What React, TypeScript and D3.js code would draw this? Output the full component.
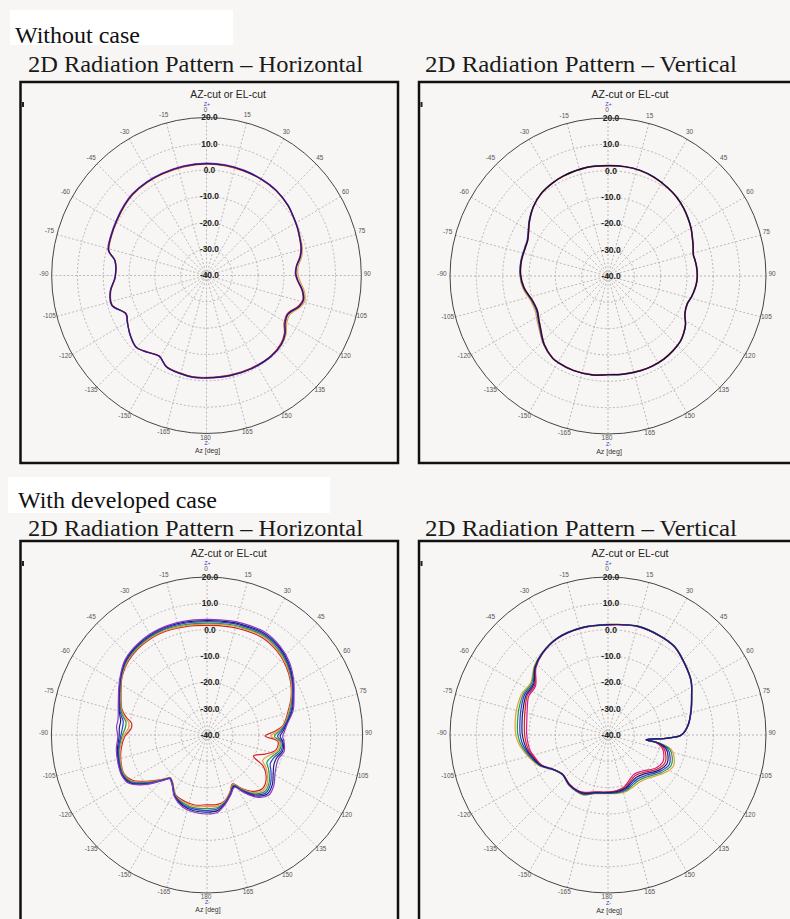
import * as d3 from 'd3';
import React, { useEffect, useRef } from 'react';

// polar grid
const ringLevels = [20, 10, 0, -10, -20, -30, -40];
const tickAngles = [-165, -150, -135, -120, -105, -90, -75, -60, -45, -30, -15, 0, 15, 30, 45, 60, 75, 90, 105, 120, 135, 150, 165, 180];

const sectionLabels = ['Without case', 'With developed case'];
const panelTitles = ['2D Radiation Pattern \u2013 Horizontal', '2D Radiation Pattern \u2013 Vertical'];

// Without case / horizontal (dB at each azimuth)
const hzAngles = [-180, -172, -165, -156, -149, -142, -135, -127, -120, -115, -107, -99, -91, -81, -76, -68, -59, -50, -43, -33, -24, -12, 0, 10, 20, 30, 40, 50, 57, 63, 68, 74, 79, 84, 89, 93, 99, 104, 108, 115, 121, 126, 132, 141, 154, 166];
const hzNavy = [-1.1, -1.0, -1.4, -2.0, -4.3, -3.0, -1.5, -2.9, -4.6, -5.6, -1.6, -2.3, -4.6, -4.1, -0.9, -0.1, 0.6, 1.5, 2.1, 2.3, 2.3, 2.4, 2.5, 2.5, 2.4, 2.3, 2.1, 1.3, 0.3, -0.4, -1.1, -1.8, -3.0, -4.9, -5.4, -4.6, -2.3, -1.3, -2.2, -5.2, -4.5, -2.4, -1.0, -0.4, -0.6, -0.9];
const hzRed = [-1.2, -1.1, -1.5, -2.1, -4.4, -3.1, -1.4, -2.8, -4.7, -5.7, -1.7, -2.4, -4.7, -4.2, -1.0, -0.2, 0.5, 1.4, 2.0, 2.2, 2.2, 2.3, 2.4, 2.4, 2.3, 2.2, 2.0, 1.2, 0.2, -0.5, -1.2, -2.0, -3.2, -5.0, -5.6, -4.8, -2.5, -1.6, -2.5, -5.5, -4.9, -2.7, -1.3, -0.6, -0.8, -1.1];
const hzOrange = [-1.3, -1.2, -1.6, -2.1, -4.3, -3.0, -1.6, -3.0, -4.5, -5.4, -1.8, -2.5, -4.6, -4.0, -1.1, -0.3, 0.4, 1.3, 1.9, 2.1, 2.1, 2.2, 2.3, 2.3, 2.2, 2.2, 2.0, 1.2, 0.4, -0.2, -0.8, -1.4, -2.4, -4.2, -4.6, -3.8, -1.6, -0.7, -1.6, -4.5, -3.8, -1.9, -0.7, -0.4, -0.7, -1.0];
const hzPurple = [-1.0, -0.9, -1.3, -1.9, -4.2, -2.9, -1.4, -2.8, -4.5, -5.5, -1.5, -2.2, -4.5, -4.0, -0.7, 0.1, 0.8, 1.7, 2.3, 2.5, 2.5, 2.6, 2.7, 2.7, 2.6, 2.4, 2.2, 1.4, 0.4, -0.3, -1.0, -1.7, -2.9, -4.8, -5.3, -4.5, -2.2, -1.2, -2.1, -5.1, -4.4, -2.3, -0.9, -0.3, -0.5, -0.8];

// Without case / vertical
const vtAngles = [-180, -171, -160, -150, -146, -137, -127, -122, -116, -108, -98, -89, -80, -71, -66, -60, -55, -47, -39, -31, -24, -11, 0, 9, 17, 25, 34, 41, 48, 54, 60, 66, 71, 76, 80, 84, 89, 93, 97, 104, 109, 116, 122, 127, 132, 139, 146, 154, 161, 171];
const vtBlack = [-2.5, -2.0, -1.8, -2.1, -2.4, -4.5, -7.8, -9.0, -10.1, -9.8, -7.8, -6.8, -6.6, -6.8, -6.6, -5.2, -3.6, -1.3, 0.3, 1.1, 1.6, 2.0, 1.9, 2.0, 1.9, 1.4, 0.5, -0.3, -1.4, -2.5, -3.6, -4.9, -5.8, -6.6, -6.4, -6.2, -6.1, -6.2, -6.5, -7.3, -8.1, -7.5, -5.3, -4.0, -3.0, -2.4, -2.0, -1.9, -2.0, -2.3];
const vtMagenta = [-2.6, -2.1, -1.9, -2.2, -2.5, -4.6, -7.9, -9.1, -10.2, -9.9, -7.9, -6.9, -6.7, -6.9, -6.7, -5.3, -3.7, -1.4, 0.2, 1.0, 1.5, 1.9, 1.8, 1.9, 1.8, 1.3, 0.4, -0.4, -1.5, -2.6, -3.7, -5.0, -5.9, -6.7, -6.5, -6.3, -6.2, -6.3, -6.6, -7.4, -8.2, -7.6, -5.4, -4.1, -3.1, -2.5, -2.1, -2.0, -2.1, -2.4];
const vtBlue = [-2.4, -1.9, -1.7, -2.0, -2.3, -4.3, -7.5, -8.7, -9.8, -9.6, -7.6, -6.6, -6.4, -6.6, -6.4, -5.0, -3.4, -1.2, 0.4, 1.2, 1.7, 2.1, 2.0, 2.1, 2.0, 1.5, 0.6, -0.2, -1.3, -2.4, -3.5, -4.8, -5.7, -6.5, -6.3, -6.1, -6.0, -6.1, -6.4, -7.2, -8.0, -7.4, -5.2, -3.9, -2.9, -2.3, -1.9, -1.8, -1.9, -2.2];
const vtOrange = [-2.5, -2.0, -1.8, -2.1, -2.3, -4.2, -7.1, -8.2, -9.3, -9.2, -7.3, -6.5, -6.5, -6.7, -6.6, -5.2, -3.6, -1.3, 0.3, 1.1, 1.6, 2.0, 1.9, 2.0, 1.9, 1.4, 0.5, -0.3, -1.4, -2.5, -3.6, -4.9, -5.8, -6.6, -6.4, -6.2, -6.1, -6.2, -6.5, -7.3, -8.1, -7.5, -5.3, -4.0, -3.0, -2.4, -2.0, -1.9, -2.0, -2.3];

// With developed case / horizontal
const hcAngles = [-180, -170, -161, -152, -144, -139, -136, -128, -121, -115, -108, -99, -91, -85, -81, -78, -74, -70, -62, -56, -48, -37, -25, -12, 0, 12, 17, 29, 40, 49, 58, 66, 74, 83, 87, 91, 95, 102, 108, 114, 119, 127, 134, 141, 147, 152, 158, 165, 172];
const hcPurple = [-10.0, -10.3, -11.1, -13.3, -17.0, -18.0, -16.2, -9.3, -4.6, -3.7, -4.0, -4.6, -5.6, -5.0, -5.2, -5.0, -4.4, -3.6, -1.5, 0.3, 2.6, 3.8, 4.3, 4.1, 3.9, 4.3, 4.5, 5.0, 3.9, 2.1, -0.6, -3.3, -5.4, -9.0, -10.0, -10.8, -10.2, -9.6, -11.0, -10.8, -10.0, -7.8, -7.0, -9.6, -14.0, -17.5, -15.5, -12.8, -10.4];
const hcNavy = [-10.7, -10.8, -11.6, -13.5, -17.1, -18.1, -16.3, -9.7, -5.0, -3.9, -4.2, -5.0, -6.1, -6.1, -6.3, -5.7, -4.7, -3.8, -1.7, 0.1, 2.3, 3.5, 4.0, 3.7, 3.4, 3.8, 4.0, 4.5, 3.5, 1.7, -0.9, -3.5, -5.8, -9.3, -10.6, -11.8, -10.6, -10.2, -11.8, -11.8, -10.8, -8.5, -7.7, -10.2, -14.4, -17.8, -15.7, -13.0, -11.0];
const hcBlue = [-11.4, -11.4, -12.0, -13.7, -17.2, -18.2, -16.4, -10.2, -5.4, -4.1, -4.5, -5.4, -6.7, -7.3, -7.3, -6.3, -5.0, -4.1, -1.9, 0.0, 2.0, 3.2, 3.6, 3.3, 3.0, 3.4, 3.6, 4.1, 3.1, 1.3, -1.2, -3.8, -6.2, -9.6, -11.3, -12.8, -11.0, -10.8, -12.7, -13.3, -11.8, -9.3, -8.4, -10.8, -14.8, -18.1, -15.9, -13.3, -11.6];
const hcGreen = [-12.1, -11.9, -12.5, -13.9, -17.3, -18.3, -16.6, -10.6, -5.7, -4.4, -4.7, -5.7, -7.2, -8.4, -8.4, -7.0, -5.4, -4.3, -2.1, -0.2, 1.8, 2.9, 3.3, 2.8, 2.5, 2.9, 3.1, 3.6, 2.6, 1.0, -1.4, -4.0, -6.7, -9.9, -12.0, -14.0, -11.5, -11.5, -13.6, -14.7, -12.8, -10.0, -9.1, -11.3, -15.2, -18.4, -16.1, -13.5, -12.1];
const hcOrange = [-12.8, -12.5, -12.9, -14.1, -17.4, -18.4, -16.7, -11.1, -6.1, -4.6, -5.0, -6.1, -7.8, -9.6, -9.4, -7.6, -5.7, -4.6, -2.3, -0.3, 1.5, 2.6, 2.9, 2.4, 2.1, 2.5, 2.7, 3.2, 2.2, 0.6, -1.7, -4.3, -7.1, -10.2, -12.8, -15.3, -12.0, -12.1, -14.8, -16.5, -13.9, -10.8, -9.8, -11.9, -15.6, -18.7, -16.3, -13.8, -12.7];
const hcRed = [-13.5, -13.0, -13.4, -14.3, -17.5, -18.5, -16.8, -11.5, -6.5, -4.8, -5.2, -6.5, -8.3, -10.7, -10.5, -8.3, -6.0, -4.8, -2.5, -0.5, 1.2, 2.3, 2.6, 2.0, 1.6, 2.0, 2.2, 2.7, 1.8, 0.2, -2.0, -4.5, -7.5, -10.5, -14.0, -17.6, -12.6, -12.8, -16.5, -20.4, -15.0, -11.5, -10.5, -12.5, -16.0, -19.0, -16.5, -14.0, -13.3];

// With developed case / vertical
const vcAngles = [-180, -167, -158, -152, -142, -131, -123, -114, -107, -101, -95, -89, -79, -73, -64, -56, -47, -39, -28, -14, 0, 15, 28, 37, 47, 57, 65, 73, 83, 90, 93, 97, 99, 103, 109, 116, 125, 137, 146, 155, 162, 171];
const vcOrange = [-17.7, -17.1, -15.4, -15.4, -15.8, -17.0, -15.5, -11.4, -9.2, -7.4, -5.8, -4.9, -4.2, -3.9, -3.7, -4.6, -1.7, 0.0, 1.6, 2.0, 2.0, 2.9, 2.6, 2.1, -0.1, -2.3, -4.9, -6.9, -9.3, -12.1, -17.2, -25.4, -20.0, -15.3, -13.4, -12.5, -14.5, -17.6, -18.5, -18.0, -17.5, -17.5];
const vcGreen = [-17.8, -17.2, -15.6, -15.5, -15.9, -17.1, -15.6, -11.6, -9.6, -7.9, -6.5, -5.7, -5.1, -4.7, -4.3, -5.0, -1.9, -0.1, 1.5, 2.0, 2.0, 2.9, 2.6, 2.1, -0.1, -2.3, -4.9, -6.9, -9.3, -12.1, -17.2, -25.4, -20.3, -16.0, -14.2, -13.4, -15.2, -18.3, -19.2, -18.6, -17.9, -17.7];
const vcBlue = [-18.0, -17.4, -15.8, -15.6, -16.0, -17.1, -15.6, -11.8, -9.9, -8.4, -7.2, -6.6, -6.0, -5.5, -4.8, -5.5, -2.1, -0.2, 1.5, 1.9, 1.9, 2.8, 2.5, 2.0, -0.2, -2.3, -4.9, -6.9, -9.3, -12.1, -17.2, -25.4, -20.6, -16.8, -15.1, -14.2, -15.9, -19.0, -19.9, -19.2, -18.3, -17.9];
const vcNavy = [-18.1, -17.5, -16.1, -15.8, -16.1, -17.2, -15.7, -11.9, -10.3, -8.8, -8.0, -7.4, -6.8, -6.3, -5.4, -5.9, -2.2, -0.2, 1.4, 1.9, 1.9, 2.8, 2.5, 2.0, -0.2, -2.4, -5.0, -7.0, -9.4, -12.2, -17.2, -25.4, -20.9, -17.5, -15.9, -15.1, -16.6, -19.8, -20.7, -19.8, -18.7, -18.2];
const vcRed = [-18.3, -17.7, -16.3, -15.9, -16.2, -17.2, -15.7, -12.1, -10.6, -9.3, -8.7, -8.3, -7.7, -7.1, -5.9, -6.4, -2.4, -0.3, 1.4, 1.8, 1.8, 2.7, 2.4, 1.9, -0.3, -2.4, -5.0, -7.0, -9.4, -12.2, -17.2, -25.4, -21.2, -18.3, -16.8, -15.9, -17.3, -20.5, -21.4, -20.4, -19.1, -18.4];
const vcMagenta = [-18.4, -17.8, -16.5, -16.0, -16.3, -17.3, -15.8, -12.3, -11.0, -9.8, -9.4, -9.1, -8.6, -7.9, -6.5, -6.8, -2.6, -0.4, 1.3, 1.8, 1.8, 2.7, 2.4, 1.9, -0.3, -2.4, -5.0, -7.0, -9.4, -12.2, -17.2, -25.4, -21.5, -19.0, -17.6, -16.8, -18.0, -21.2, -22.1, -21.0, -19.5, -18.6];

const C = {
  navy: '#1c1c78', red: '#d8202a', orange: '#d9a441', purple: '#8a3cc8',
  black: '#151515', magenta: '#d0208a', blue: '#2b3bd8', green: '#2a9a3a',
};

const R = 158;
const rad = (a) => (a * Math.PI) / 180;

function drawPolar(svg, p) {
  const r = d3.scaleLinear().domain([-40, 20]).range([0, R]);
  const g = svg.append('g').attr('transform', `translate(${p.cx},${p.cy}) scale(${p.sx},1)`);

  // spokes every 15 deg
  g.selectAll('line.spoke').data(tickAngles).enter().append('line')
    .attr('class', 'spoke')
    .attr('x1', 0).attr('y1', 0)
    .attr('x2', (d) => R * Math.sin(rad(d)))
    .attr('y2', (d) => -R * Math.cos(rad(d)))
    .attr('stroke', '#9c9c9c').attr('stroke-width', 0.7).attr('stroke-dasharray', '2,2');

  // inner rings
  g.selectAll('circle.ring').data(ringLevels.slice(1, -1)).enter().append('circle')
    .attr('class', 'ring')
    .attr('r', (d) => r(d))
    .attr('fill', 'none').attr('stroke', '#9c9c9c').attr('stroke-width', 0.7).attr('stroke-dasharray', '2,2');

  g.append('circle').attr('r', R).attr('fill', 'none').attr('stroke', '#444').attr('stroke-width', 1);

  // patterns
  const line = d3.lineRadial()
    .angle((d, i) => rad(p.angles[i]))
    .radius((d) => r(d))
    .curve(d3.curveCatmullRomClosed.alpha(0.5));

  p.series.forEach((s) => {
    g.append('path')
      .attr('d', line(s.values))
      .attr('fill', 'none')
      .attr('stroke', s.color)
      .attr('stroke-width', 1.2)
      .attr('stroke-linejoin', 'round');
  });

  // ring labels
  g.selectAll('text.rl').data(ringLevels).enter().append('text')
    .attr('class', 'rl')
    .attr('x', 3).attr('y', (d) => -r(d))
    .attr('dy', '0.35em')
    .attr('text-anchor', 'middle')
    .attr('fill', '#222')
    .style('font-family', '"Liberation Sans", Arial, sans-serif')
    .style('font-weight', 'bold')
    .style('font-size', '8.5px')
    .text((d) => d.toFixed(1));

  // azimuth labels
  g.selectAll('text.al').data(tickAngles).enter().append('text')
    .attr('class', 'al')
    .attr('x', (d) => (R + 7) * Math.sin(rad(d)) - 1)
    .attr('y', (d) => -(R + 6) * Math.cos(rad(d)) - 2)
    .attr('dy', '0.35em')
    .attr('text-anchor', 'middle')
    .attr('fill', '#555')
    .style('font-family', '"Liberation Sans", Arial, sans-serif')
    .style('font-size', '6.5px')
    .text((d) => `${d}`);

  const small = (t, x, y, size, color) => g.append('text')
    .attr('x', x).attr('y', y).attr('text-anchor', 'middle')
    .attr('fill', color)
    .style('font-family', '"Liberation Sans", Arial, sans-serif')
    .style('font-size', `${size}px`)
    .text(t);

  small('Z+', 0.5, -170, 5.5, '#3b3bc4');
  small('Z-', 0.5, 169.5, 5.5, '#3b3bc4');
  small('Az [deg]', 1, 177.5, 7, '#333');
  small('AZ-cut or EL-cut', 22, -178, 10, '#222').attr('textLength', 77).attr('lengthAdjust', 'spacingAndGlyphs');
}

function drawPage(svg) {
  svg.append('rect').attr('width', 790).attr('height', 919).attr('fill', '#f8f6f4');

  // section headings on white boxes
  const boxes = [{ x: 10, y: 10, w: 223, h: 35, ty: 43, tx: 15 }, { x: 8, y: 477, w: 322, h: 36, ty: 508, tx: 18 }];
  boxes.forEach((b, i) => {
    svg.append('rect').attr('x', b.x).attr('y', b.y).attr('width', b.w).attr('height', b.h).attr('fill', '#fff');
    svg.append('text').attr('x', b.tx).attr('y', b.ty)
      .attr('fill', '#111')
      .style('font-family', '"Liberation Serif", "Times New Roman", serif')
      .style('font-size', '24px')
      .text(sectionLabels[i]);
  });

  // frame titles + frames
  const frames = [
    { x: 20.5, y: 82, title: 0, ty: 72, tx: 28, tl: 335 },
    { x: 419, y: 82, title: 1, ty: 72, tx: 425, tl: 312 },
    { x: 20.5, y: 541, title: 0, ty: 536, tx: 28, tl: 335 },
    { x: 419, y: 541, title: 1, ty: 536, tx: 425, tl: 312 },
  ];
  frames.forEach((f) => {
    svg.append('text').attr('x', f.tx).attr('y', f.ty)
      .attr('fill', '#1a1a1a')
      .attr('textLength', f.tl).attr('lengthAdjust', 'spacingAndGlyphs')
      .style('font-family', '"Liberation Serif", "Times New Roman", serif')
      .style('font-size', '24px')
      .text(panelTitles[f.title]);
    const w = f.x < 100 ? 377.5 : 400;
    const h = f.y < 100 ? 381 : 400;
    svg.append('rect').attr('x', f.x).attr('y', f.y).attr('width', w).attr('height', h)
      .attr('fill', 'none').attr('stroke', '#111').attr('stroke-width', 2.5);
    svg.append('rect').attr('x', f.x + 1.5).attr('y', f.y + 20).attr('width', 2).attr('height', 5).attr('fill', '#222');
  });

  const panels = [
    {
      cx: 206.5, cy: 275.5, sx: 0.98, angles: hzAngles,
      series: [
        { color: C.orange, values: hzOrange },
        { color: C.red, values: hzRed },
        { color: C.purple, values: hzPurple },
        { color: C.navy, values: hzNavy },
      ],
    },
    {
      cx: 608, cy: 276, sx: 1, angles: vtAngles,
      series: [
        { color: C.orange, values: vtOrange },
        { color: C.blue, values: vtBlue },
        { color: C.magenta, values: vtMagenta },
        { color: C.black, values: vtBlack },
      ],
    },
    {
      cx: 207, cy: 735, sx: 0.985, angles: hcAngles,
      series: [
        { color: C.red, values: hcRed },
        { color: C.orange, values: hcOrange },
        { color: C.green, values: hcGreen },
        { color: C.blue, values: hcBlue },
        { color: C.navy, values: hcNavy },
        { color: C.purple, values: hcPurple },
      ],
    },
    {
      cx: 608, cy: 735, sx: 1, angles: vcAngles,
      series: [
        { color: C.magenta, values: vcMagenta },
        { color: C.red, values: vcRed },
        { color: C.orange, values: vcOrange },
        { color: C.green, values: vcGreen },
        { color: C.blue, values: vcBlue },
        { color: C.navy, values: vcNavy },
      ],
    },
  ];
  panels.forEach((p) => drawPolar(svg, p));
}

const App = () => {
  const ref = useRef(null);

  useEffect(() => {
    const svg = d3.select(ref.current);
    svg.selectAll('*').remove();
    drawPage(svg);
  }, []);

  return (
    <svg
      ref={ref}
      width={790}
      height={919}
      style={{ position: 'absolute', left: 0, top: 0, display: 'block' }}
    />
  );
};

export default App;
